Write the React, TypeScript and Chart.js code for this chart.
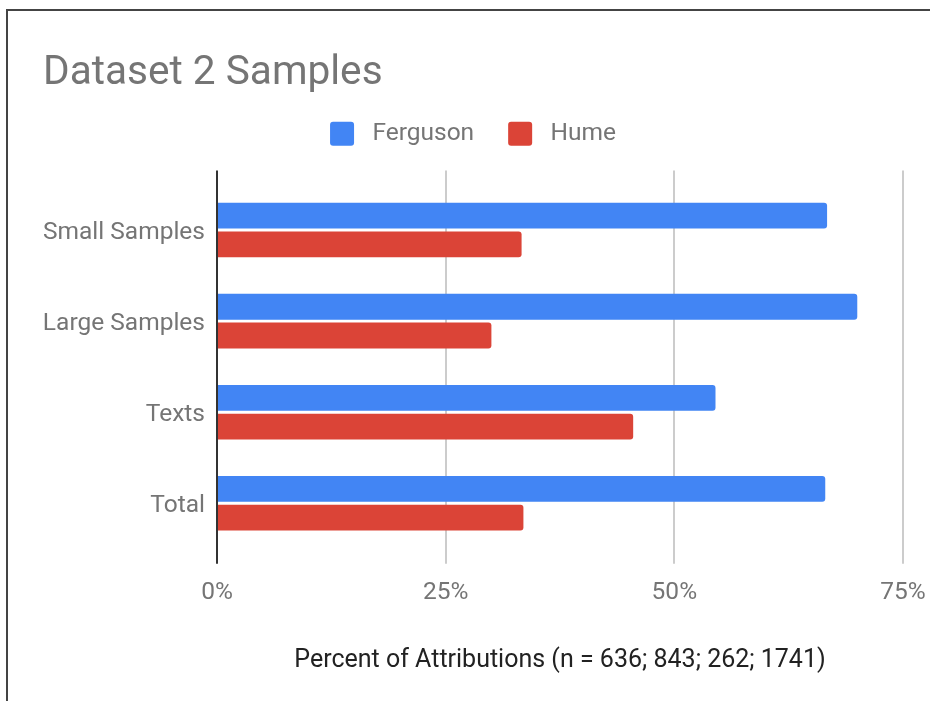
import React, { useEffect, useRef } from "react";
import { Chart, registerables } from "chart.js";

Chart.register(...registerables);

const chartTitle = "Dataset 2 Samples";
const xAxisTitle = "Percent of Attributions (n = 636; 843; 262; 1741)";
const categories = ["Small Samples", "Large Samples", "Texts", "Total"];
const seriesNames = ["Ferguson", "Hume"];
const fergusonValues = [66.7, 70.0, 54.5, 66.5];
const humeValues = [33.3, 30.0, 45.5, 33.5];
const xTickValues = [0, 25, 50, 75];

const BLUE = "#4285F4";
const RED = "#DB4437";
const TEXT = "#757575";
const FONT = "Roboto";

const gridColor = (ctx: any) => (ctx.tick && ctx.tick.value === 0 ? "#333333" : "#cccccc");
const gridWidth = (ctx: any) => 2;

export default function App() {
  const ref = useRef<HTMLCanvasElement | null>(null);

  useEffect(() => {
    if (!ref.current) return;
    const chart = new Chart(ref.current, {
      type: "bar",
      data: {
        labels: categories,
        datasets: [
          {
            label: seriesNames[0],
            data: fergusonValues,
            backgroundColor: BLUE,
            borderWidth: 0,
            borderRadius: 3,
            borderSkipped: "start",
            categoryPercentage: 0.63,
            barPercentage: 0.9,
          },
          {
            label: seriesNames[1],
            data: humeValues,
            backgroundColor: RED,
            borderWidth: 0,
            borderRadius: 3,
            borderSkipped: "start",
            categoryPercentage: 0.63,
            barPercentage: 0.9,
          },
        ],
      },
      options: {
        indexAxis: "y",
        responsive: false,
        animation: false,
        layout: { padding: { left: 43, right: 27, top: 0, bottom: 0 } },
        plugins: {
          title: {
            display: true,
            text: chartTitle,
            align: "start",
            color: TEXT,
            font: { family: FONT, size: 40.6, weight: "normal", lineHeight: 1.2 },
            padding: { top: 49.4, bottom: -10.6 },
          },
          legend: {
            display: true,
            position: "top",
            align: "center",
            labels: {
              boxWidth: 24,
              boxHeight: 24,
              padding: 34,
              color: TEXT,
              useBorderRadius: true,
              borderRadius: 3,
              font: { family: FONT, size: 24.5 },
              generateLabels: (c: any) =>
                (Chart.defaults.plugins.legend.labels as any)
                  .generateLabels(c)
                  .map((l: any) => ({ ...l, text: " " + l.text, lineWidth: 0 })),
            },
          },
          tooltip: { enabled: false },
        },
        scales: {
          x: {
            type: "linear",
            position: "bottom",
            min: xTickValues[0],
            max: xTickValues[xTickValues.length - 1],
            afterBuildTicks: (s: any) => {
              s.ticks = xTickValues.map((v) => ({ value: v }));
            },
            ticks: {
              color: TEXT,
              font: { family: FONT, size: 24.5 },
              padding: 14.5,
              callback: (v: any) => v + "%",
            },
            grid: {
              color: gridColor,
              lineWidth: gridWidth,
              drawTicks: true,
              tickLength: 15,
            },
            border: { display: false },
            title: {
              display: true,
              text: xAxisTitle,
              color: "#222222",
              font: { family: FONT, size: 25 },
              padding: { top: 0, bottom: 25.3 },
            },
            afterFit: (s: any) => {
              s.height = 152.2;
              s.paddingLeft = 0;
              s.paddingRight = 0;
            },
          },
          x2: {
            type: "linear",
            position: "top",
            min: xTickValues[0],
            max: xTickValues[xTickValues.length - 1],
            afterBuildTicks: (s: any) => {
              s.ticks = xTickValues.map((v) => ({ value: v }));
            },
            ticks: { display: false },
            grid: {
              color: gridColor,
              lineWidth: gridWidth,
              drawOnChartArea: false,
              drawTicks: true,
              tickLength: 14,
            },
            border: { display: false },
            afterFit: (s: any) => {
              s.height = 28.5;
              s.paddingLeft = 0;
              s.paddingRight = 0;
            },
          },
          y: {
            ticks: {
              color: TEXT,
              font: { family: FONT, size: 24.5 },
              padding: 12,
              labelOffset: 2.5,
            },
            grid: { display: false, drawTicks: false },
            border: { display: false },
            afterFit: (s: any) => {
              s.width = 174;
            },
          },
        },
      } as any,
    });
    return () => chart.destroy();
  }, []);

  return (
    <div
      style={{
        position: "fixed",
        left: 0,
        top: 0,
        width: 930,
        height: 701,
        overflow: "hidden",
        background: "#ffffff",
      }}
    >
      <div
        style={{
          position: "absolute",
          left: 6,
          top: 9,
          width: 2000,
          height: 2000,
          borderLeft: "2px solid #444444",
          borderTop: "2px solid #444444",
        }}
      />
      <canvas
        ref={ref}
        width={930}
        height={701}
        style={{ position: "absolute", left: 0, top: 0, width: 930, height: 701 }}
      />
    </div>
  );
}
